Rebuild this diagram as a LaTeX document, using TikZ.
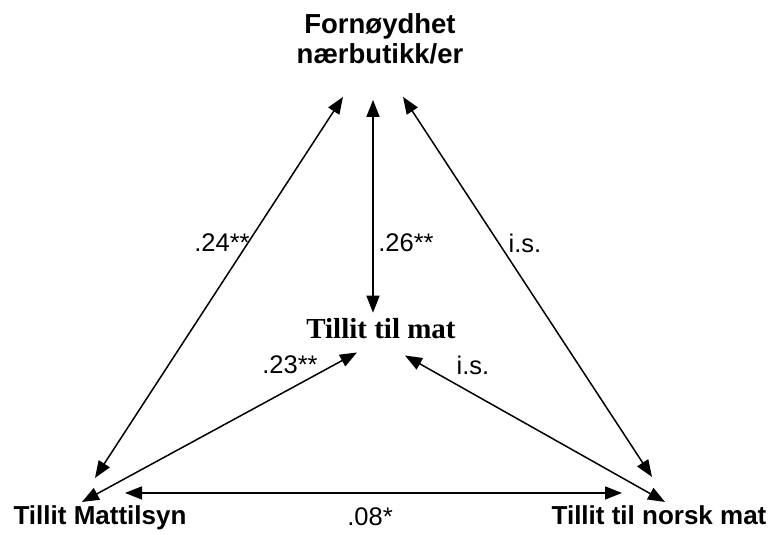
\documentclass[tikz,border=0pt]{standalone}
\usepackage{fontspec}
\setmainfont{Liberation Sans}
\newfontfamily\serifbf{Liberation Serif}
\usetikzlibrary{arrows.meta}
\tikzset{
  var/.style={inner sep=0pt,font=\fontsize{26}{30}\selectfont\bfseries},
  vartop/.style={inner sep=0pt,align=center,font=\fontsize{27.5}{30}\selectfont\bfseries},
  varmid/.style={inner sep=0pt,font=\fontsize{29}{32}\selectfont\serifbf\bfseries},
  corr/.style={{Triangle[length=17pt,width=13pt]}-{Triangle[length=17pt,width=13pt]},line width=1.5pt},
  coef/.style={inner sep=0pt,font=\fontsize{25.5}{30}\selectfont},
}
\begin{document}
\begin{tikzpicture}[x=1pt,y=-1pt]
  \useasboundingbox (0,0) rectangle (774,535);
  \node[vartop,anchor=north](F) at (380,13){Fornøydhet\\nærbutikk/er};
  \node[varmid,anchor=base](M) at (381,338){Tillit til mat};
  \node[var,anchor=base](L) at (100,524){Tillit Mattilsyn};
  \node[var,anchor=base](R) at (659,524){Tillit til norsk mat};
  \draw[corr] ([shift={(-37,33)}]F.south) -- ([shift={(-5,-27)}]L.north);
  \draw[corr] ([shift={(-7,36)}]F.south) -- ([shift={(-8,-5)}]M.north);
  \draw[corr] ([shift={(23,33)}]F.south) -- ([shift={(-7,-28)}]R.north);
  \draw[corr] ([shift={(-18,-3)}]L.north) -- ([shift={(-24,14)}]M.south);
  \draw[corr] ([shift={(6,-3)}]R.north) -- ([shift={(24,17)}]M.south);
  \draw[corr] ([shift={(25,-12)}]L.north) -- ([shift={(-37,-12)}]R.north);
  \node[coef](c1) at (222,243){.24**}; \node[coef](c2) at (406,243){.26**};
  \node[coef](c3) at (525,243){i.s.}; \node[coef](c4) at (290,365){.23**};
  \node[coef](c5) at (473,365){i.s.}; \node[coef](c6) at (370,517){.08*};
\end{tikzpicture}
\end{document}
